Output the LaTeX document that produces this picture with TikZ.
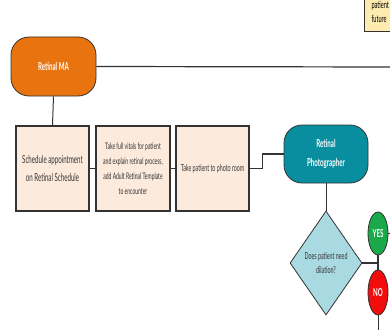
\documentclass[tikz,border=0pt]{standalone}
\usepackage{fontspec}
\setmainfont{Lato}[FakeStretch=0.56]
\usetikzlibrary{shapes.geometric}
\definecolor{maorange}{HTML}{E8730F}
\definecolor{taskfill}{HTML}{FCEADD}
\definecolor{phototeal}{HTML}{088E9E}
\definecolor{askblue}{HTML}{A9D9E1}
\definecolor{yesgreen}{HTML}{19A84A}
\definecolor{nored}{HTML}{F20D0D}
\definecolor{notefill}{HTML}{FDEBB0}
\definecolor{inkgray}{HTML}{333333}
\begin{document}
\begin{tikzpicture}[x=1pt,y=-1pt,line width=1.2pt,draw=inkgray,
roleblock/.style={draw=inkgray,rectangle,rounded corners=18pt,line width=0.8pt,text=white,align=center,
  font=\bfseries\fontsize{11}{19}\selectfont,minimum width=85pt,minimum height=59pt},
taskblock/.style={draw=inkgray,fill=taskfill,rectangle,line width=1.4pt,text=inkgray,align=center,
  minimum width=73pt,minimum height=85pt,inner sep=1pt},
askblock/.style={draw=inkgray,fill=askblue,diamond,line width=0.8pt,text=inkgray,align=center,inner sep=0pt,
  minimum width=72pt,minimum height=104pt,font=\fontsize{9.5}{14}\selectfont},
answer/.style={draw=inkgray,ellipse,line width=0.8pt,text=white,inner sep=0pt,
  minimum width=20pt,minimum height=44pt,font=\bfseries\fontsize{11}{12}\selectfont}]
\useasboundingbox (0,0) rectangle (390,329);
\clip (0,0) rectangle (390,329);
\draw (364,32) node[draw=inkgray,fill=notefill,line width=1pt,anchor=south west,align=left,inner xsep=7pt,
  inner ysep=9pt,text width=60pt,font=\fontsize{10}{14}\selectfont] (note) {patient\\future};
\draw (53.5,66.5) node[roleblock,fill=maorange] (ma) {Retinal MA};
\draw (52.5,168.5) node[taskblock,font=\fontsize{11}{18}\selectfont] (sched) {Schedule appointment\\on Retinal Schedule};
\draw (133,168.5) node[taskblock,minimum width=74pt,font=\fontsize{9}{15}\selectfont] (vitals)
  {Take full vitals for patient\\and explain retinal process,\\add Adult Retinal Template\\to encounter};
\draw (212.5,168.5) node[taskblock,font=\fontsize{9.5}{15}\selectfont] (room) {Take patient to photo room};
\draw (326,154) node[roleblock,fill=phototeal,minimum width=84pt,minimum height=58pt] (photo) {Retinal\\Photographer};
\draw (326,263) node[askblock] (dilate) {Does patient need\\dilation?};
\draw (378,233.5) node[answer,fill=yesgreen,minimum height=43pt] (yes) {YES};
\draw (378,292.5) node[answer,fill=nored,minimum height=45pt] (no) {NO};
\coordinate (maend) at (392,67);
\coordinate (yesend) at (392,233.5);
\coordinate (noend) at (378,331);
\draw (ma.east) -- (maend);
\draw[line width=1pt] (ma.south) -- (sched.north);
\draw (sched.east) -- (vitals.west);
\draw (vitals.east) -- (room.west);
\draw (room.east) -- ++(13,0) |- (photo.west);
\draw[line width=1pt] (photo.south) -- (dilate.north);
\draw (dilate.east) -- (dilate.east -| yes.south);
\draw (yes.south) -- (no.north);
\draw[line width=1pt] (yes.east) -- (yesend);
\draw[line width=1pt] (no.south) -- (noend);
\end{tikzpicture}
\end{document}
